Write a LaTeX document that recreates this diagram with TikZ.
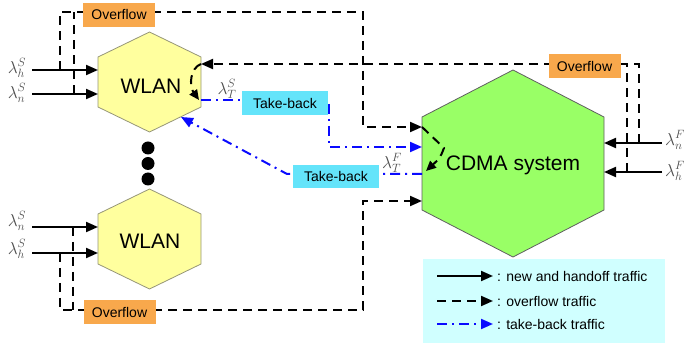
\documentclass[tikz,border=0pt]{standalone}
\usepackage{fontspec}
\setmainfont{Liberation Sans}
\usetikzlibrary{arrows.meta}

\definecolor{wlanfill}{RGB}{255,255,158}
\definecolor{wlanedge}{RGB}{150,150,120}
\definecolor{cdmafill}{RGB}{153,255,102}
\definecolor{cdmaedge}{RGB}{95,95,95}
\definecolor{ovfill}{RGB}{248,168,76}
\definecolor{tbfill}{RGB}{100,228,250}
\definecolor{legfill}{RGB}{208,255,255}
\definecolor{tbblue}{RGB}{10,10,255}

\tikzset{
  tip/.style={-{Triangle[length=12pt,width=10pt]}},
  newflow/.style={line width=2pt, tip},
  ovflow/.style={line width=2pt, dash pattern=on 9pt off 6pt},
  tbflow/.style={line width=2pt, tbblue, dash pattern=on 10pt off 5pt on 2pt off 5pt},
  hexwlan/.style={fill=wlanfill, draw=wlanedge, line width=0.8pt},
  hexcdma/.style={fill=cdmafill, draw=cdmaedge, line width=0.8pt},
  ovbox/.style={fill=ovfill, minimum width=72pt, minimum height=24pt, inner sep=0pt,
                font=\fontsize{14}{14}\selectfont},
  tbbox/.style={fill=tbfill, minimum width=86pt, minimum height=24pt, inner sep=0pt,
                font=\fontsize{14}{14}\selectfont},
  rate/.style={text=black!70, inner sep=0pt, font=\fontsize{18}{18}\selectfont},
  sysname/.style={inner sep=0pt, font=\fontsize{21}{21}\selectfont},
  legtext/.style={anchor=west, inner sep=0pt, font=\fontsize{14}{14}\selectfont},
}

\begin{document}
\begin{tikzpicture}[x=1pt,y=-1pt]
\useasboundingbox (0,0) rectangle (685,344);

% ---------- cells ----------
\draw[hexwlan] (98,57) -- (149.5,32) -- (201,57) -- (201,107) -- (149.5,132) -- (98,107) -- cycle;
\draw[hexwlan] (98,214) -- (149.5,189) -- (201,214) -- (201,264) -- (149.5,289) -- (98,264) -- cycle;
\draw[hexcdma] (422,117) -- (513,70) -- (604,117) -- (604,210) -- (513,257) -- (422,210) -- cycle;

\node[sysname] (wlanA) at (151,86) {WLAN};
\node[sysname] (wlanB) at (150,241) {WLAN};
\node[sysname] (cdma) at (513,165) {CDMA system};

% more WLAN cells in between
\fill (148,148) circle (6.5pt) (148,163.5) circle (6.5pt) (148,179) circle (6.5pt);

% ---------- attachment points ----------
% upper WLAN
\coordinate (aHsrc) at (32,70);   \coordinate (aHin) at (98,70);
\coordinate (aNsrc) at (32,94);   \coordinate (aNin) at (98,94);
\coordinate (aHbr) at (60,70);    \coordinate (aNbr) at (74,94);
\coordinate (aOvIn) at (201,64);  \coordinate (aTbOut) at (201,100);
\coordinate (aTbIn) at (181,117);
% lower WLAN
\coordinate (bNsrc) at (32,227);  \coordinate (bNin) at (98,227);
\coordinate (bHsrc) at (32,253);  \coordinate (bHin) at (98,253);
\coordinate (bNbr) at (73,227);   \coordinate (bHbr) at (60,253);
% CDMA
\coordinate (cNsrc) at (662,143); \coordinate (cNin) at (604,143);
\coordinate (cHsrc) at (662,172); \coordinate (cHin) at (604,172);
\coordinate (cNbr) at (639,143);  \coordinate (cHbr) at (627,172);
\coordinate (cOvInA) at (422,127); \coordinate (cTbIn) at (422,147);
\coordinate (cTbOut) at (422,174); \coordinate (cOvInB) at (422,201);

% ---------- new and handoff traffic ----------
\draw[newflow] (aHsrc) -- (aHin);
\draw[newflow] (aNsrc) -- (aNin);
\draw[newflow] (bNsrc) -- (bNin);
\draw[newflow] (bHsrc) -- (bHin);
\draw[newflow] (cNsrc) -- (cNin);
\draw[newflow] (cHsrc) -- (cHin);

\node[rate] (rAh) at (17,68) {$\lambda_h^S$};
\node[rate] (rAn) at (17,93) {$\lambda_n^S$};
\node[rate] (rBn) at (17,221) {$\lambda_n^S$};
\node[rate] (rBh) at (17,249) {$\lambda_h^S$};
\node[rate, anchor=west] (rCn) at (665,140) {$\lambda_n^F$};
\node[rate, anchor=west] (rCh) at (665,171) {$\lambda_h^F$};

% ---------- overflow traffic ----------
\draw[ovflow, tip] (aHbr) -- (60,12) -- (363,12) -- (363,127) -- (cOvInA);
\draw[ovflow] (aNbr) -- (74,12);
\draw[ovflow, tip] (cNbr) -- (639,64) -- (aOvIn);
\draw[ovflow] (cHbr) -- (627,64);
\draw[ovflow, tip] (bHbr) -- (60,310) -- (363,310) -- (363,201) -- (cOvInB);
\draw[ovflow] (bNbr) -- (73,310);

% overflow handed on as take-back
\draw[ovflow, -{Triangle[length=10pt,width=9pt]}] (aOvIn) .. controls (190,68) and (189,86) .. (199,100);
\draw[ovflow, -{Triangle[length=10pt,width=9pt]}] (cOvInA) -- (444,148) .. controls (440,158) .. (426,171);

% ---------- take-back traffic ----------
\draw[tbflow, tip] (aTbOut) -- (329,100) -- (329,147) -- (cTbIn);
\draw[tbflow, tip] (cTbOut) -- (287,174) -- (aTbIn);

\node[rate] (rTs) at (227,89) {$\lambda_T^S$};
\node[rate] (rTf) at (392,163) {$\lambda_T^F$};

% ---------- labels on the routes ----------
\node[ovbox] (ovA) at (119,15) {Overflow};
\node[ovbox] (ovB) at (584.5,66) {Overflow};
\node[ovbox] (ovC) at (119.5,312.5) {Overflow};
\node[tbbox] (tbA) at (285,103.5) {Take-back};
\node[tbbox, minimum height=23pt] (tbB) at (336,176.5) {Take-back};

% ---------- legend ----------
\node[fill=legfill, minimum width=242pt, minimum height=84pt, anchor=north west, inner sep=0pt]
  (legend) at (423,259) {};
\node[legtext] (lgNew) at (497,276) {: new and handoff traffic};
\node[legtext] (lgOv) at (497,301) {: overflow traffic};
\node[legtext] (lgTb) at (497,324) {: take-back traffic};
\coordinate (lsNew) at (437,276);
\coordinate (lsOv) at (437,301);
\coordinate (lsTb) at (437,324);
\draw[newflow, shorten >=4pt] (lsNew) -- (lgNew.west);
\draw[ovflow, tip, shorten >=4pt] (lsOv) -- (lgOv.west);
\draw[tbflow, tip, shorten >=4pt] (lsTb) -- (lgTb.west);
\end{tikzpicture}
\end{document}
